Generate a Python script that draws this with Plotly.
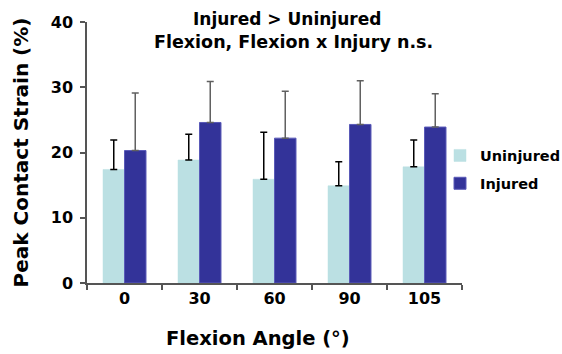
import plotly.graph_objects as go

angles = ["0", "30", "60", "90", "105"]
uninjured = [17.4, 18.85, 15.9, 14.9, 17.8]
uninjured_sd = [4.5, 3.95, 7.2, 3.7, 4.1]
injured = [20.3, 24.6, 22.2, 24.3, 23.9]
injured_sd = [8.8, 6.3, 7.2, 6.7, 5.1]
y_ticks = [0, 10, 20, 30, 40]

FONT = "DejaVu Sans, Arial, sans-serif"
BOLD = dict(family=FONT, weight="bold", color="black")

fig = go.Figure()
fig.add_trace(go.Bar(
    x=angles, y=uninjured, name="Uninjured", legendgroup="uninjured",
    marker=dict(color="#BBE0E3", line=dict(color="#BBE0E3", width=0.5)),
    error_y=dict(type="data", array=uninjured_sd, symmetric=False,
                 arrayminus=[0] * len(uninjured_sd),
                 color="#000000", thickness=1.5, width=3.5),
))
fig.add_trace(go.Bar(
    x=angles, y=injured, name="Injured", legendgroup="injured",
    marker=dict(color="#333399", line=dict(color="#5A5AB8", width=1)),
    error_y=dict(type="data", array=injured_sd, symmetric=False,
                 arrayminus=[0] * len(injured_sd),
                 color="#606060", thickness=1.5, width=3.5),
))

fig.update_layout(
    width=562, height=354,
    margin=dict(l=87, r=100, t=22, b=71, autoexpand=False),
    plot_bgcolor="white", paper_bgcolor="white",
    barmode="group", bargap=0.427, bargroupgap=0,
    font=dict(family=FONT, color="black"),
    showlegend=True,
    legend=dict(x=(440 - 87) / 375, xanchor="left",
                y=(283 - 169.5) / 261, yanchor="middle",
                font=dict(size=14.5, **BOLD),
                itemwidth=30, tracegroupgap=6, traceorder="grouped",
                bgcolor="rgba(0,0,0,0)"),
    xaxis=dict(
        type="category", showline=True, linecolor="#555555", linewidth=1.5,
        ticks="outside", tickson="boundaries", ticklen=5, tickcolor="#555555",
        tickwidth=1.5,
        tickfont=dict(size=16, **BOLD),
    ),
    yaxis=dict(
        range=[0, 40], tickvals=y_ticks, showgrid=False, zeroline=False,
        showline=True, linecolor="#555555", linewidth=1.5,
        ticks="outside", ticklen=5, tickcolor="#555555", tickwidth=1.5,
        ticklabelstandoff=4,
        tickfont=dict(size=16, **BOLD),
        title=dict(text="Peak Contact Strain (%)", standoff=17,
                   font=dict(size=20, **BOLD)),
    ),
)

# x-axis title
fig.add_annotation(
    text="Flexion Angle (°)", xref="paper", yref="paper",
    x=(258 - 87) / 375, y=(283 - 338) / 261, xanchor="center", yanchor="middle",
    showarrow=False, font=dict(size=19.5, **BOLD),
)

# statistics summary, two centred lines
fig.add_annotation(
    text="Injured > Uninjured", xref="paper", yref="paper",
    x=(287 - 87) / 375, y=(283 - 19) / 261, xanchor="center", yanchor="middle",
    showarrow=False, font=dict(size=17, **BOLD),
)
fig.add_annotation(
    text="Flexion, Flexion x Injury n.s.", xref="paper", yref="paper",
    x=(293 - 87) / 375, y=(283 - 42) / 261, xanchor="center", yanchor="middle",
    showarrow=False, font=dict(size=17.5, **BOLD),
)

fig.write_html("out.html")
